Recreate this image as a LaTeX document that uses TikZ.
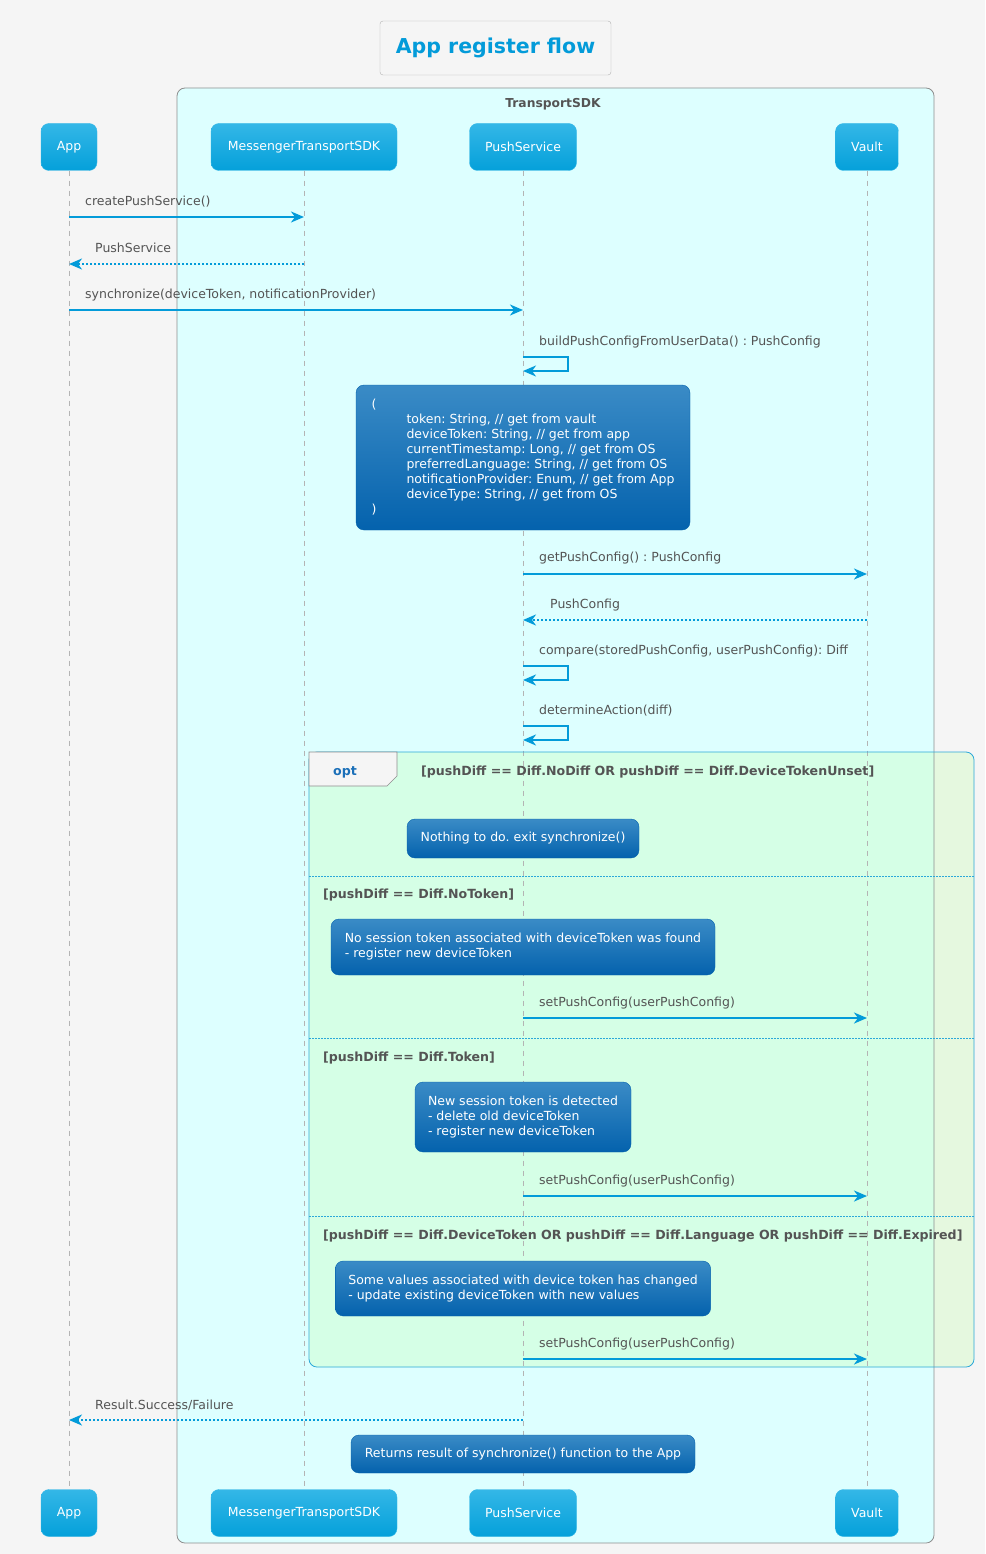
\documentclass[tikz,border=0pt]{standalone}
\usepackage{fontspec}
\setmainfont{DejaVu Sans}
\usetikzlibrary{arrows.meta}
\frenchspacing
\definecolor{bggray}{HTML}{F5F5F5}
\definecolor{arrowblue}{HTML}{039BD9}
\definecolor{txtgray}{HTML}{545454}
\definecolor{boxcyan}{HTML}{DDFFFF}
\definecolor{boxline}{HTML}{8E8E8E}
\definecolor{parttop}{HTML}{34B7E7}
\definecolor{partbot}{HTML}{04A0DA}
\definecolor{notetop}{HTML}{3A8BC6}
\definecolor{notebot}{HTML}{0462AD}
\definecolor{optfill}{RGB}{197,255,180}
\definecolor{optline}{HTML}{2BA8D9}
\definecolor{optblue}{HTML}{1A6FB8}
\definecolor{lifegray}{HTML}{B4B4B4}

\begin{document}
\begin{tikzpicture}[x=1pt,y=-1pt,
  every node/.style={font=\fontsize{12.5}{15}\selectfont},
  part/.style={rounded corners=8pt,top color=parttop,bottom color=partbot,draw=parttop,text=white,minimum height=47pt,inner sep=0pt},
  note/.style={rounded corners=8pt,top color=notetop,bottom color=notebot,draw=notebot,text=white,align=left,inner xsep=13pt,inner ysep=0pt},
  lbl/.style={anchor=west,text=txtgray,inner sep=0pt,yshift=-2pt},
  cond/.style={anchor=west,text=txtgray,inner sep=0pt,yshift=-1.5pt,font=\fontsize{12.6}{15}\selectfont\bfseries},
  msg/.style={arrowblue,line width=2.8pt,-{Stealth[length=13pt,width=11pt,inset=4pt]}},
  ret/.style={msg,dash pattern=on 2.5pt off 1.5pt},
  life/.style={lifegray,line width=0.8pt,dash pattern=on 5pt off 5pt},
  sep/.style={optline,line width=0.8pt,dash pattern=on 1.5pt off 1.5pt}]
\useasboundingbox (0,0) rectangle (985,1554);
\fill[bggray] (0,0) rectangle (985,1554);
\draw (495.5,48) node[draw=black!30,fill=bggray,rounded corners=3pt,minimum width=231pt,minimum height=54pt,text=arrowblue,font=\fontsize{20.5}{24}\selectfont\bfseries](title){App register flow};
\fill[boxcyan,rounded corners=8pt] (177,88) rectangle (934,1543);
\draw (553,104) node[text=txtgray,font=\fontsize{12.3}{15}\selectfont\bfseries](grp){TransportSDK};
\coordinate (optnw) at (309,752);
\coordinate (optse) at (974,1367);
\fill[optfill,fill opacity=0.33,rounded corners=8pt] (optnw) rectangle (optse);
\draw (69,147) node[part,minimum width=56pt](app){App};
\draw (304,147) node[part,minimum width=186pt](sdk){MessengerTransportSDK};
\draw (523,147) node[part,minimum width=107pt](push){PushService};
\draw (867,147) node[part,minimum width=63pt](vault){Vault};
\draw (69,1513) node[part,minimum width=56pt](app2){App};
\draw (304,1513) node[part,minimum width=186pt](sdk2){MessengerTransportSDK};
\draw (523,1513) node[part,minimum width=107pt](push2){PushService};
\draw (867,1513) node[part,minimum width=63pt](vault2){Vault};
\draw[life] (app)--(app2);
\draw[life] (sdk)--(sdk2);
\draw[life] (push)--(push2);
\draw[life] (vault)--(vault2);
\draw[boxline,line width=0.8pt,rounded corners=8pt] (177,88) rectangle (934,1543);
\draw[optline,line width=0.8pt,rounded corners=8pt] (optnw) rectangle (optse);
\filldraw[fill=bggray,draw=boxline,line width=0.6pt] (optnw)--++(88,0)--++(0,24)--++(-10,10)--(optnw |- 0,786)--cycle;
\draw (345,771) node[cond,anchor=center,text=optblue](opt){opt};
\draw (421,771) node[cond](c1){[pushDiff == Diff.NoDiff OR pushDiff == Diff.DeviceTokenUnset]};
\draw[sep] (optnw |- 0,876)--(optse |- 0,876);
\draw (323,894) node[cond](c2){[pushDiff == Diff.NoToken]};
\draw[sep] (optnw |- 0,1038)--(optse |- 0,1038);
\draw (323,1057) node[cond](c3){[pushDiff == Diff.Token]};
\draw[sep] (optnw |- 0,1216)--(optse |- 0,1216);
\draw (323,1235) node[cond](c4){[pushDiff == Diff.DeviceToken OR pushDiff == Diff.Language OR pushDiff == Diff.Expired]};
\draw[msg] (app |- 0,217)--(sdk |- 0,217);
\draw (85,200) node[lbl](l1){createPushService()};
\draw[ret] (sdk |- 0,264)--(app |- 0,264);
\draw (95,246) node[lbl](l2){PushService};
\draw[msg] (app |- 0,310)--(push |- 0,310);
\draw (85,293) node[lbl](l3){synchronize(deviceToken, notificationProvider)};
\draw[msg] (push |- 0,357)-|++(45,14)--(push |- 0,371);
\draw (539,340) node[lbl](l4){buildPushConfigFromUserData() : PushConfig};
\draw (push |- 0,457.5) node[note,minimum width=334pt,minimum height=145pt](n1){(\\
\hspace*{35pt}token: String, // get from vault\\
\hspace*{35pt}deviceToken: String, // get from app\\
\hspace*{35pt}currentTimestamp: Long, // get from OS\\
\hspace*{35pt}preferredLanguage: String, // get from OS\\
\hspace*{35pt}notificationProvider: Enum, // get from App\\
\hspace*{35pt}deviceType: String, // get from OS\\
)};
\draw[msg] (push |- 0,574)--(vault |- 0,574);
\draw (539,556) node[lbl](l5){getPushConfig() : PushConfig};
\draw[ret] (vault |- 0,620)--(push |- 0,620);
\draw (550,603) node[lbl](l6){PushConfig};
\draw[msg] (push |- 0,666)-|++(45,14)--(push |- 0,680);
\draw (539,649) node[lbl](l7){compare(storedPushConfig, userPushConfig): Diff};
\draw[msg] (push |- 0,726)-|++(45,14)--(push |- 0,740);
\draw (539,709) node[lbl](l8){determineAction(diff)};
\draw (push |- 0,838.5) node[note,minimum width=232pt,minimum height=39pt](n2){Nothing to do. exit synchronize()};
\draw (push |- 0,947) node[note,minimum width=384pt,minimum height=56pt](n3){No session token associated with deviceToken was found\\- register new deviceToken};
\draw[msg] (push |- 0,1018)--(vault |- 0,1018);
\draw (539,1001) node[lbl](l9){setPushConfig(userPushConfig)};
\draw (push |- 0,1117) node[note,minimum width=214pt,minimum height=70pt](n4){New session token is detected\\- delete old deviceToken\\- register new deviceToken};
\draw[msg] (push |- 0,1196)--(vault |- 0,1196);
\draw (539,1179) node[lbl](l10){setPushConfig(userPushConfig)};
\draw (push |- 0,1288.5) node[note,minimum width=374pt,minimum height=55pt](n5){Some values associated with device token has changed\\- update existing deviceToken with new values};
\draw[msg] (push |- 0,1359)--(vault |- 0,1359);
\draw (539,1342) node[lbl](l11){setPushConfig(userPushConfig)};
\draw[ret] (push |- 0,1420)--(app |- 0,1420);
\draw (95,1403) node[lbl](l12){Result.Success/Failure};
\draw (push |- 0,1454) node[note,minimum width=344pt,minimum height=38pt](n6){Returns result of synchronize() function to the App};
\end{tikzpicture}
\end{document}
